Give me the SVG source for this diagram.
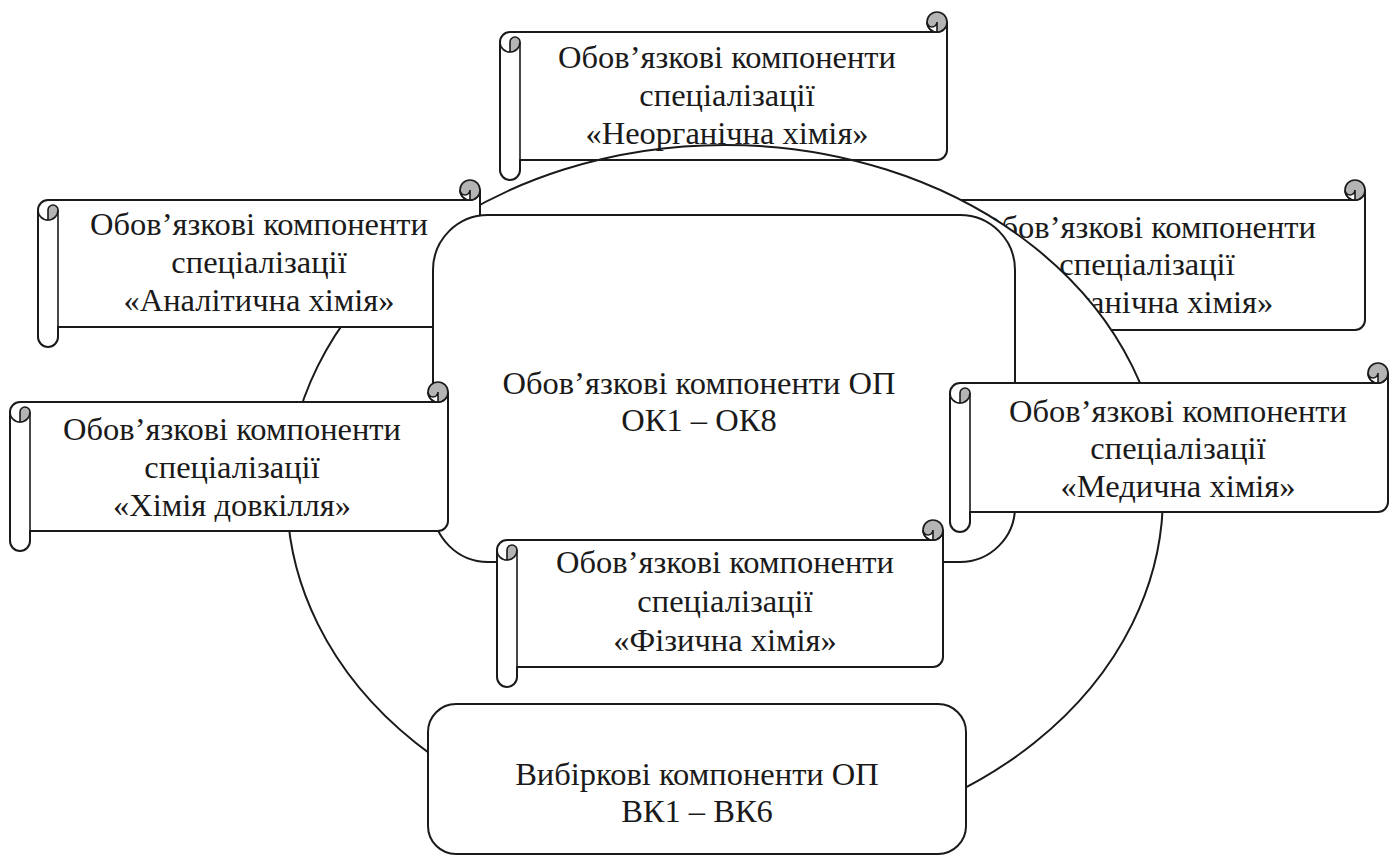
<svg xmlns="http://www.w3.org/2000/svg" width="1391" height="858" viewBox="0 0 1391 858">
<style>
.b{fill:#fff;stroke:#1a1a1a;stroke-width:2;stroke-linejoin:round}
.n{fill:none;stroke:#1a1a1a;stroke-width:2;stroke-linejoin:round}
.g{fill:#b4b4b4;stroke:#1a1a1a;stroke-width:1.6}
.w{fill:#fff;stroke:#1a1a1a;stroke-width:1.6}
.l{fill:none;stroke:#1a1a1a;stroke-width:1.6}
text{font-family:"Liberation Serif","Times New Roman","DejaVu Serif",serif;font-size:32.5px;fill:#1a1a1a;text-anchor:middle}
</style>
<rect width="1391" height="858" fill="#fff"/>

<g id="scroll-organic">
<path class="b" d="M925,210 A10,10 0 0 1 935,200 L1355,200 A10,10 0 0 0 1365,190 L1365,320 A10,10 0 0 1 1355,330 L945,330 L945,340 A10,10 0 0 1 925,340 Z"/>
<path class="l" d="M945,210 L945,330"/>
<path class="g" d="M935,210 A5,5 0 0 1 945,210 A10,10 0 0 1 935,220 Z"/>
<path class="l" d="M935,220 A10,10 0 0 1 925,210"/>
<circle class="g" cx="1355" cy="190" r="10"/>
<path class="w" d="M1345,190 A5,5 0 0 0 1355,190 L1355,200 A10,10 0 0 1 1345,190 Z"/>
<text x="1147" y="238">Обов’язкові компоненти</text>
<text x="1147" y="275">спеціалізації</text>
<text x="1147" y="313">«Органічна хімія»</text>
</g>

<g id="ring">
<ellipse class="b" cx="725" cy="495" rx="438" ry="350"/>
</g>

<g id="scroll-analytic">
<path class="b" d="M38,210 A10,10 0 0 1 48,200 L470,200 A10,10 0 0 0 480,190 L480,317 A10,10 0 0 1 470,327 L58,327 L58,337 A10,10 0 0 1 38,337 Z"/>
<path class="l" d="M58,210 L58,327"/>
<path class="g" d="M48,210 A5,5 0 0 1 58,210 A10,10 0 0 1 48,220 Z"/>
<path class="l" d="M48,220 A10,10 0 0 1 38,210"/>
<circle class="g" cx="470" cy="190" r="10"/>
<path class="w" d="M460,190 A5,5 0 0 0 470,190 L470,200 A10,10 0 0 1 460,190 Z"/>
<text x="259" y="235">Обов’язкові компоненти</text>
<text x="259" y="273">спеціалізації</text>
<text x="259" y="311">«Аналітична хімія»</text>
</g>

<g id="core">
<rect class="b" x="433" y="215" width="582" height="347" rx="55" ry="55"/>
<text x="699" y="394">Обов’язкові компоненти ОП</text>
<text x="699" y="431">ОК1 – ОК8</text>
</g>

<g id="scroll-environment">
<path class="b" d="M10,412 A10,10 0 0 1 20,402 L438,402 A10,10 0 0 0 448,392 L448,521 A10,10 0 0 1 438,531 L30,531 L30,541 A10,10 0 0 1 10,541 Z"/>
<path class="l" d="M30,412 L30,531"/>
<path class="g" d="M20,412 A5,5 0 0 1 30,412 A10,10 0 0 1 20,422 Z"/>
<path class="l" d="M20,422 A10,10 0 0 1 10,412"/>
<circle class="g" cx="438" cy="392" r="10"/>
<path class="w" d="M428,392 A5,5 0 0 0 438,392 L438,402 A10,10 0 0 1 428,392 Z"/>
<text x="232" y="440">Обов’язкові компоненти</text>
<text x="232" y="478">спеціалізації</text>
<text x="232" y="516">«Хімія довкілля»</text>
</g>

<g id="scroll-inorganic">
<path class="n" d="M500,42 A10,10 0 0 1 510,32 L937,32 A10,10 0 0 0 947,22 L947,150 A10,10 0 0 1 937,160 L520,160 L520,170 A10,10 0 0 1 500,170 Z"/>
<path class="l" d="M520,42 L520,160"/>
<path class="g" d="M510,42 A5,5 0 0 1 520,42 A10,10 0 0 1 510,52 Z"/>
<path class="l" d="M510,52 A10,10 0 0 1 500,42"/>
<circle class="g" cx="937" cy="22" r="10"/>
<path class="w" d="M927,22 A5,5 0 0 0 937,22 L937,32 A10,10 0 0 1 927,22 Z"/>
<text x="727" y="68">Обов’язкові компоненти</text>
<text x="727" y="106">спеціалізації</text>
<text x="727" y="144">«Неорганічна хімія»</text>
</g>

<g id="scroll-physical">
<path class="b" d="M497,550 A10,10 0 0 1 507,540 L933,540 A10,10 0 0 0 943,530 L943,657 A10,10 0 0 1 933,667 L517,667 L517,677 A10,10 0 0 1 497,677 Z"/>
<path class="l" d="M517,550 L517,667"/>
<path class="g" d="M507,550 A5,5 0 0 1 517,550 A10,10 0 0 1 507,560 Z"/>
<path class="l" d="M507,560 A10,10 0 0 1 497,550"/>
<circle class="g" cx="933" cy="530" r="10"/>
<path class="w" d="M923,530 A5,5 0 0 0 933,530 L933,540 A10,10 0 0 1 923,530 Z"/>
<text x="725" y="573">Обов’язкові компоненти</text>
<text x="725" y="612">спеціалізації</text>
<text x="725" y="651">«Фізична хімія»</text>
</g>

<g id="scroll-medical">
<path class="b" d="M950,393 A10,10 0 0 1 960,383 L1378,383 A10,10 0 0 0 1388,373 L1388,502 A10,10 0 0 1 1378,512 L970,512 L970,522 A10,10 0 0 1 950,522 Z"/>
<path class="l" d="M970,393 L970,512"/>
<path class="g" d="M960,393 A5,5 0 0 1 970,393 A10,10 0 0 1 960,403 Z"/>
<path class="l" d="M960,403 A10,10 0 0 1 950,393"/>
<circle class="g" cx="1378" cy="373" r="10"/>
<path class="w" d="M1368,373 A5,5 0 0 0 1378,373 L1378,383 A10,10 0 0 1 1368,373 Z"/>
<text x="1178" y="422">Обов’язкові компоненти</text>
<text x="1178" y="459">спеціалізації</text>
<text x="1178" y="497">«Медична хімія»</text>
</g>

<g id="elective">
<rect class="b" x="428" y="704" width="538" height="150" rx="28" ry="28"/>
<text x="697" y="785">Вибіркові компоненти ОП</text>
<text x="697" y="822">ВК1 – ВК6</text>
</g>
</svg>
